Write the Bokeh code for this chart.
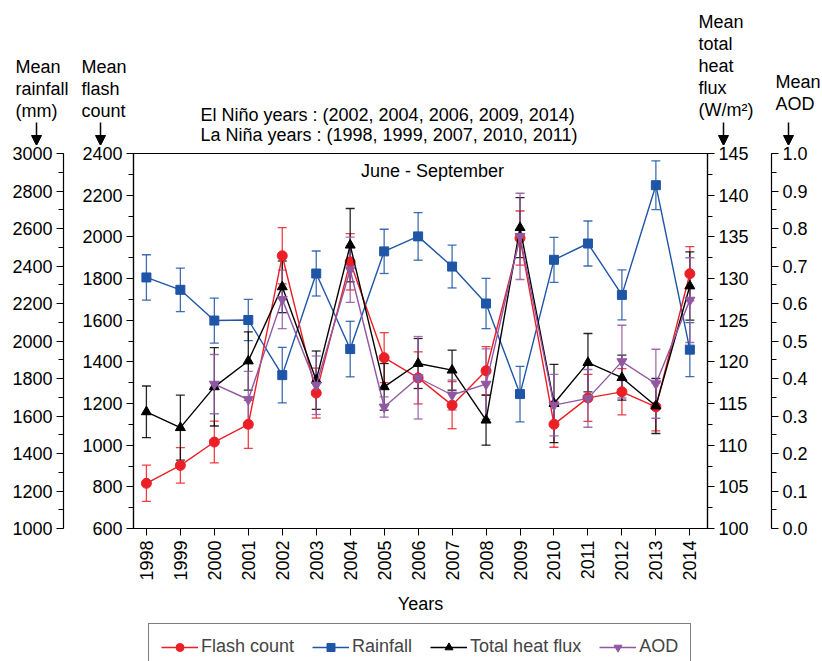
import numpy as np
from bokeh.plotting import figure
from bokeh.layouts import column
from bokeh.models import (Range1d, LinearAxis, SingleIntervalTicker, FixedTicker,
                          ColumnDataSource, Whisker, TeeHead, Label, Arrow,
                          NormalHead, Legend, LegendItem, PrintfTickFormatter)
from bokeh.embed import file_html
from bokeh.resources import INLINE

# ---- data: June-September means with error bars ----
years = list(range(1998, 2015))

flash = [817, 903, 1015, 1100, 1909, 1250, 1880, 1420, 1323, 1192,
         1357, 1994, 1100, 1227, 1256, 1184, 1823]
flash_err = [87, 85, 100, 115, 135, 120, 135, 120, 125, 113,
             116, 130, 110, 113, 111, 115, 130]

rain = [2339, 2273, 2109, 2112, 1818, 2360, 1957, 2478, 2558, 2397,
        2200, 1717, 2433, 2520, 2246, 2831, 1954]
rain_err = [121, 116, 120, 110, 148, 120, 148, 118, 127, 114,
            134, 148, 120, 120, 133, 130, 144]

heat = [114.0, 112.1, 117.0, 120.1, 129.0, 117.8, 134.0, 117.0, 119.8, 119.0,
        113.0, 136.1, 115.0, 119.9, 118.1, 114.7, 129.1]
heat_err = [3.1, 3.9, 4.7, 3.5, 3.1, 3.5, 4.4, 2.8, 3.0, 2.4,
            3.0, 3.6, 4.7, 3.5, 2.7, 3.3, 4.1]

aod_years = list(range(2000, 2015))
aod = [0.385, 0.344, 0.611, 0.382, 0.690, 0.324, 0.402, 0.356,
       0.385, 0.779, 0.329, 0.347, 0.445, 0.386, 0.609]
aod_err = [0.079, 0.075, 0.078, 0.078, 0.087, 0.027, 0.110, 0.040,
           0.094, 0.115, 0.082, 0.077, 0.097, 0.092, 0.113]

FONT = "Liberation Sans"
FS = "18px"
RED, BLUE, BLACK, PURPLE = "#ec1f26", "#1f55a6", "#000000", "#9057a3"

W = 822
HDR_H = 145          # header strip with axis titles
MAIN_H = 473         # chart with its axes
FTR_H = 43           # legend strip
FL, FR = 133, 707    # frame left / right
TOP_PAD, BOT_PAD = 8, 90
FRAME_H = MAIN_H - TOP_PAD - BOT_PAD


def blank_strip(height):
    f = figure(width=W, height=height, output_backend="svg", toolbar_location=None,
               x_range=Range1d(0, W), y_range=Range1d(height, 0),
               x_axis_location=None, y_axis_location=None,
               min_border_left=0, min_border_right=0,
               min_border_top=0, min_border_bottom=0)
    f.frame_align = False
    f.grid.visible = False
    f.outline_line_color = None
    return f


def text(fig, x, y, s, align="left", baseline="middle", **kw):
    fig.add_layout(Label(x=x, y=y, text=s, text_align=align, text_baseline=baseline,
                         text_font=FONT, text_font_size=FS, text_color="black",
                         text_line_height=1.1, **kw))


def down_arrow(fig, x, y0, y1):
    fig.add_layout(Arrow(x_start=x, y_start=y0, x_end=x, y_end=y1,
                         line_color="black", line_width=1.5,
                         end=NormalHead(size=10, fill_color="black", line_color="black")))


# ---------------- header: axis titles and ENSO years ----------------
hdr = blank_strip(HDR_H)
text(hdr, 15, 56, "Mean\nrainfall\n(mm)", baseline="top")
down_arrow(hdr, 36, 122, 145)
text(hdr, 81, 56, "Mean\nflash\ncount", baseline="top")
down_arrow(hdr, 100, 122, 145)
text(hdr, 698, 11, "Mean\ntotal\nheat\nflux\n(W/m\u00b2)", baseline="top")
down_arrow(hdr, 723, 122, 145)
text(hdr, 775, 71, "Mean\nAOD", baseline="top")
down_arrow(hdr, 788, 122, 145)
text(hdr, 200, 114, "El Ni\u00f1o years : (2002, 2004, 2006, 2009, 2014)")
text(hdr, 200, 134, "La Ni\u00f1a years : (1998, 1999, 2007, 2010, 2011)")

# ---------------- main chart ----------------
p = figure(width=W, height=MAIN_H, output_backend="svg", toolbar_location=None,
           x_range=Range1d(1997.62, 2014.52), y_range=Range1d(600, 2400),
           min_border_left=FL, min_border_right=W - FR,
           min_border_top=TOP_PAD, min_border_bottom=BOT_PAD,
           background_fill_color="white", border_fill_color="white")
p.frame_align = False
p.grid.visible = False
p.outline_line_color = "black"
p.outline_line_width = 1.2

p.extra_y_ranges = {"rain": Range1d(1000, 3000),
                    "heat": Range1d(100, 145),
                    "aod": Range1d(0, 1)}


def style_axis(ax, interval=None):
    if interval is not None:
        ax.ticker = SingleIntervalTicker(interval=interval, num_minor_ticks=2)
    ax.major_tick_out = 7
    ax.major_tick_in = 0
    ax.minor_tick_out = 5
    ax.minor_tick_in = 0
    ax.major_label_standoff = 4
    ax.major_label_text_font = FONT
    ax.major_label_text_font_size = FS
    ax.major_label_text_color = "black"
    ax.axis_line_color = "black"
    ax.axis_line_width = 1.2
    ax.major_tick_line_color = "black"
    ax.minor_tick_line_color = "black"


def pad_axis(ax, size, standoff):
    # blank axis label used only to space the next stacked axis outward
    ax.axis_label = " "
    ax.axis_label_text_font_size = size
    ax.axis_label_standoff = standoff


# flash count (inner left axis)
ya = p.yaxis[0]
style_axis(ya, 200)
pad_axis(ya, "12px", -1)

# rainfall (outer left axis)
rain_ax = LinearAxis(y_range_name="rain")
style_axis(rain_ax, 200)
p.add_layout(rain_ax, "left")

# total heat flux (inner right axis)
heat_ax = LinearAxis(y_range_name="heat")
style_axis(heat_ax, 5)
pad_axis(heat_ax, "14px", 1)
p.add_layout(heat_ax, "right")

# AOD (outer right axis)
aod_ax = LinearAxis(y_range_name="aod")
style_axis(aod_ax, 0.1)
aod_ax.formatter = PrintfTickFormatter(format="%.1f")
p.add_layout(aod_ax, "right")

# years axis
xa = p.xaxis[0]
style_axis(xa)
xa.ticker = FixedTicker(ticks=years)
xa.minor_tick_out = 0
xa.major_label_orientation = np.pi / 2
xa.major_label_standoff = 5
xa.axis_label = "Years"
xa.axis_label_text_font = FONT
xa.axis_label_text_font_size = FS
xa.axis_label_text_font_style = "normal"
xa.axis_label_text_color = "black"
xa.axis_label_standoff = 10

# season note, 17 px below the frame top
p.add_layout(Label(x=432 - FL, y=FRAME_H - 17, x_units="screen", y_units="screen",
                   text="June - September", text_align="center", text_baseline="middle",
                   text_font=FONT, text_font_size=FS, text_color="black"))


def series(xs, vals, errs, color, marker, size, rng):
    lo = [v - e for v, e in zip(vals, errs)]
    hi = [v + e for v, e in zip(vals, errs)]
    src = ColumnDataSource(dict(x=xs, y=vals, lo=lo, hi=hi))
    head = dict(size=9, line_color=color, line_width=1.3, line_alpha=0.85)
    wk = Whisker(source=src, base="x", lower="lo", upper="hi", dimension="height",
                 line_color=color, line_width=1.3, line_alpha=0.85,
                 lower_head=TeeHead(**head), upper_head=TeeHead(**head),
                 y_range_name=rng, level="underlay")
    p.add_layout(wk)
    p.line("x", "y", source=src, line_color=color, line_width=1.4, y_range_name=rng)
    p.scatter("x", "y", source=src, marker=marker, size=size,
              fill_color=color, line_color=color, y_range_name=rng)


SERIES = [("Flash count", years, flash, RED, "circle"),
          ("Rainfall", years, rain, BLUE, "square"),
          ("Total heat flux", years, heat, BLACK, "triangle"),
          ("AOD", aod_years, aod, PURPLE, "inverted_triangle")]

series(years, rain, rain_err, BLUE, "square", 9, "rain")
series(years, flash, flash_err, RED, "circle", 10, "default")
series(years, heat, heat_err, BLACK, "triangle", 10, "heat")
series(aod_years, aod, aod_err, PURPLE, "inverted_triangle", 10, "aod")

# ---------------- legend strip ----------------
# legend keys reuse each series; the strip's pixel ranges keep the marks out of view
ftr = blank_strip(FTR_H)
items = []
for label, xs, vals, color, marker in SERIES:
    ln = ftr.line(x=xs, y=vals, line_color=color, line_width=1.4)
    mk = ftr.scatter(x=xs, y=vals, marker=marker, fill_color=color, line_color=color)
    items.append(LegendItem(label=label, renderers=[ln, mk]))

LEG_PAD = 12
legend = Legend(items=items, orientation="horizontal",
                location=(148, FTR_H - 6 - (2 * LEG_PAD + 22)),
                label_text_font=FONT, label_text_font_size=FS,
                glyph_width=37, label_standoff=3, spacing=18, padding=LEG_PAD,
                border_line_color="black", border_line_width=1.2,
                background_fill_color="white", background_fill_alpha=1.0)
ftr.add_layout(legend)

layout = column(hdr, p, ftr, spacing=0)
open("out.html", "w").write(file_html(layout, INLINE))
